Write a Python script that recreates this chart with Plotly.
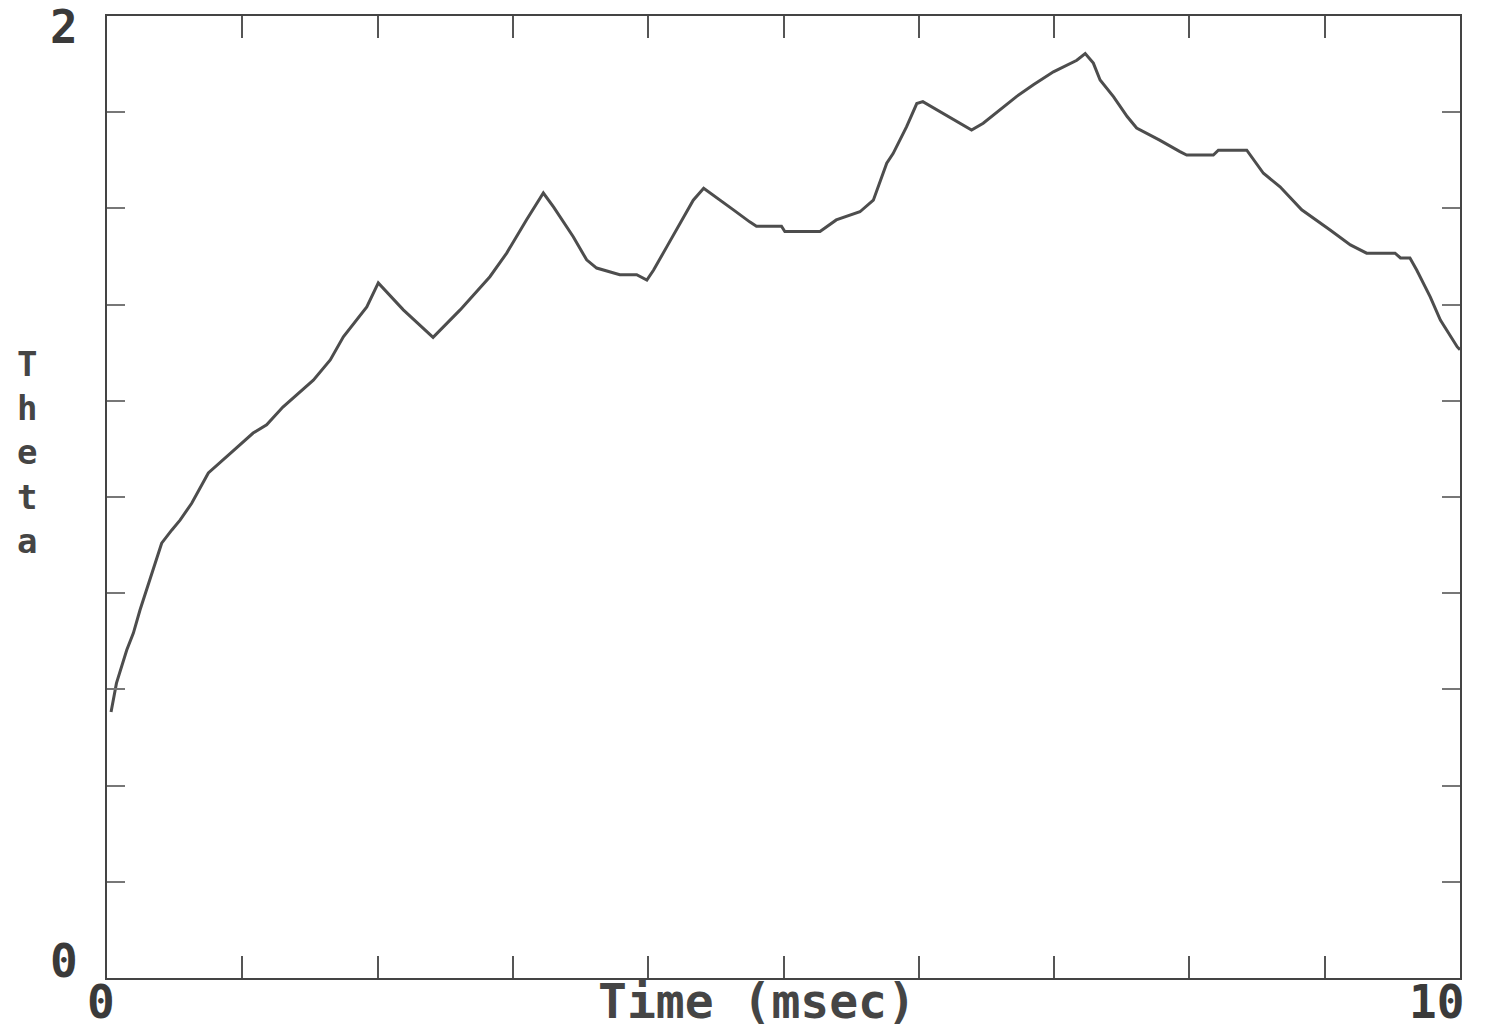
import plotly.graph_objects as go

# Data
time_ms = [0.03, 0.07, 0.146, 0.195, 0.244, 0.293, 0.342, 0.38, 0.404, 0.478, 0.54, 0.626,
           0.712, 0.749, 0.897, 1.08, 1.18, 1.30, 1.525, 1.65, 1.747, 1.92, 2.005, 2.19,
           2.41, 2.61, 2.83, 2.954, 3.10, 3.225, 3.30, 3.446, 3.545, 3.619, 3.79, 3.915,
           3.99, 4.04, 4.137, 4.235, 4.333, 4.41, 4.48, 4.63, 4.75, 4.80, 4.985, 5.01,
           5.27, 5.39, 5.565, 5.664, 5.763, 5.81, 5.91, 5.985, 6.03, 6.157, 6.30, 6.39,
           6.476, 6.60, 6.724, 6.847, 6.995, 7.168, 7.23, 7.29, 7.34, 7.44, 7.54, 7.61,
           7.78, 7.93, 7.98, 8.177, 8.214, 8.424, 8.547, 8.67, 8.83, 9.04, 9.19, 9.31,
           9.52, 9.56, 9.63, 9.68, 9.78, 9.855, 9.98, 10.0]
theta = [0.553, 0.613, 0.682, 0.717, 0.765, 0.807, 0.848, 0.884, 0.904, 0.931, 0.952, 0.987,
         1.029, 1.05, 1.087, 1.133, 1.15, 1.187, 1.243, 1.285, 1.333, 1.395, 1.445, 1.389,
         1.332, 1.389, 1.458, 1.507, 1.576, 1.632, 1.603, 1.541, 1.493, 1.476, 1.462, 1.462,
         1.451, 1.472, 1.52, 1.57, 1.617, 1.642, 1.628, 1.597, 1.572, 1.563, 1.563, 1.552,
         1.552, 1.576, 1.593, 1.617, 1.694, 1.714, 1.77, 1.818, 1.822, 1.801, 1.777, 1.763,
         1.777, 1.805, 1.833, 1.857, 1.884, 1.908, 1.922, 1.902, 1.867, 1.832, 1.791, 1.767,
         1.742, 1.718, 1.711, 1.711, 1.721, 1.721, 1.673, 1.645, 1.597, 1.555, 1.524, 1.507,
         1.507, 1.497, 1.497, 1.472, 1.416, 1.368, 1.312, 1.306]

x_range = [0, 10]
y_range = [0, 2]
x_major_ticks = [1, 2, 3, 4, 5, 6, 7, 8, 9]
y_minor_ticks = [0.2, 0.4, 0.6, 0.8, 1.0, 1.2, 1.4, 1.6, 1.8]
x_tick_labels = ["0", "10"]
y_tick_labels = ["0", "2"]
x_title = "Time (msec)"
y_title = "Theta"

# plot-area geometry in pixels
L, R, T, B = 107, 1460, 16, 978
W, H = 1488, 1034
def px(x):
    return (x - L) / (R - L)
def py(y):
    return (B - y) / (B - T)

TXT = "#3a3a3a"
FONT = "DejaVu Sans Mono"

fig = go.Figure()
fig.add_trace(go.Scatter(x=time_ms, y=theta, mode="lines",
                         line=dict(color="#4d4d4d", width=3), hoverinfo="skip"))

annotations = []
# x tick labels
for lab, cx in zip(x_tick_labels, [101, 1436]):
    annotations.append(dict(text=f"<b>{lab}</b>", x=px(cx), y=py(1002), xref="paper", yref="paper",
                            showarrow=False, xanchor="center", yanchor="middle",
                            font=dict(family=FONT, size=46, color=TXT)))
# y tick labels
for lab, cy in zip(y_tick_labels, [961, 27]):
    annotations.append(dict(text=f"<b>{lab}</b>", x=px(64), y=py(cy), xref="paper", yref="paper",
                            showarrow=False, xanchor="center", yanchor="middle",
                            font=dict(family=FONT, size=46, color=TXT)))
# x title
annotations.append(dict(text=f"<b>{x_title}</b>", x=px(757), y=py(1001), xref="paper", yref="paper",
                        showarrow=False, xanchor="center", yanchor="middle",
                        font=dict(family=FONT, size=48, color="#454545")))
# y title, stacked letters in one block
annotations.append(dict(text="<br>".join(f"<b>{ch}</b>" for ch in y_title),
                        x=px(27), y=py(452), xref="paper", yref="paper",
                        showarrow=False, xanchor="center", yanchor="middle", align="center",
                        font=dict(family=FONT, size=34, color="#454545")))

fig.update_layout(
    width=W, height=H,
    margin=dict(l=L, r=W - R, t=T, b=H - B),
    paper_bgcolor="white", plot_bgcolor="white",
    showlegend=False,
    annotations=annotations,
    xaxis=dict(range=x_range, showgrid=False, zeroline=False, showticklabels=False,
               tickvals=x_major_ticks, ticks="inside", ticklen=22, tickwidth=2, tickcolor="#555",
               showline=True, linecolor="#444", linewidth=2, mirror="allticks"),
    yaxis=dict(range=y_range, showgrid=False, zeroline=False, showticklabels=False,
               tickvals=y_minor_ticks, ticks="inside", ticklen=18, tickwidth=2, tickcolor="#777",
               showline=True, linecolor="#444", linewidth=2, mirror="allticks"),
)

fig.write_html("out.html")
